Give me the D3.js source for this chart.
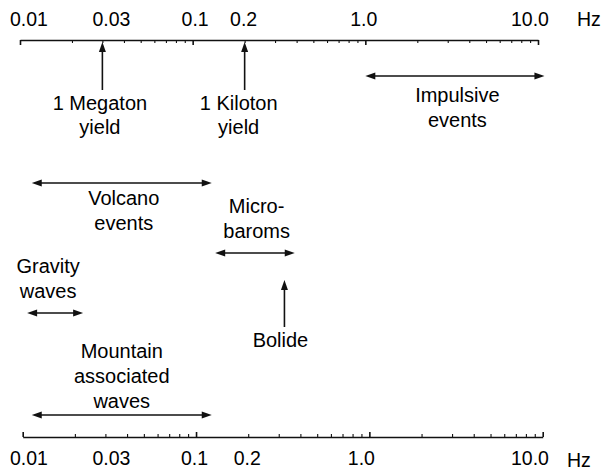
<!DOCTYPE html>
<html>
<head>
<meta charset="utf-8">
<script src="https://cdn.jsdelivr.net/npm/d3@7"></script>
<style>
  html, body { margin: 0; padding: 0; background: #fff; }
  svg { display: block; }
  text { font-family: "Liberation Sans", Arial, Helvetica, sans-serif; fill: #000; }
</style>
</head>
<body>
<svg id="chart" width="612" height="472"></svg>
<script>
// Frequency axis labels (Hz)
const tickValues = [0.01, 0.03, 0.1, 0.2, 1.0, 10.0];
const tickLabels = ["0.01", "0.03", "0.1", "0.2", "1.0", "10.0"];

// Frequency bands drawn as double-headed arrows (Hz)
const bandNames = ["Impulsive events", "Volcano events", "Micro-baroms", "Gravity waves", "Mountain associated waves"];
const bandLow   = [1.0, 0.0117, 0.135, 0.0110, 0.0117];
const bandHigh  = [10.9, 0.129, 0.39, 0.0232, 0.129];
const bandText  = [["Impulsive", "events"], ["Volcano", "events"], ["Micro-", "baroms"], ["Gravity", "waves"], ["Mountain", "associated", "waves"]];

// Single frequencies marked with upward arrows (Hz)
const pointNames = ["1 Megaton yield", "1 Kiloton yield", "Bolide"];
const pointFreq  = [0.03, 0.2, 0.34];
const pointText  = [["1 Megaton", "yield"], ["1 Kiloton", "yield"], ["Bolide"]];

// ---- layout ----
const svg = d3.select("#chart");
const ink = "#111";
const fontSize = 20;
const lineH = 25;

const xTop = d3.scaleLog().domain([0.01, 10]).range([20, 538]);
const xBot = d3.scaleLog().domain([0.01, 10]).range([22.7, 542.7]);
const yTopAxis = 40, yBotAxis = 437;

// label shifts along each axis, in px, per tick label
const topLabelDx = [9, 9, 2.5, -1, -1.5, -8];
const botLabelDx = [6.3, 6, -1.5, -1, -8, -12.7];

// vertical layout for each band: arrow row, first text baseline, text x shift
const bandLayout = [
  { y: 76,  textY: 102, dx: 2.5 },
  { y: 183, textY: 205, dx: 2 },
  { y: 253, textY: 213, dx: 1.7 },
  { y: 313, textY: 273, dx: -7 },
  { y: 415, textY: 358, dx: 0 }
];
// vertical layout for point markers: tail y, tip y, text baseline, text x shift
const pointLayout = [
  { y0: 90, y1: 42, textY: 110, dx: -2.5 },
  { y0: 90, y1: 42, textY: 110, dx: -6 },
  { y0: 327, y1: 280, textY: 347, dx: -4 }
];

const minorTicks = xTop.ticks();   // 1..9 multiples of every decade
const isMajor = v => Math.abs(Math.log10(v) - Math.round(Math.log10(v))) < 1e-9;

// ---- axes ----
function drawAxis(scale, y, dir) {
  const axis = (dir < 0 ? d3.axisTop(scale) : d3.axisBottom(scale))
    .tickValues(minorTicks).tickFormat("").tickSizeOuter(0).tickSizeInner(0);
  const g = svg.append("g").attr("transform", `translate(0,${y})`).call(axis);
  g.select(".domain").attr("stroke", ink).attr("stroke-width", 1.6);
  g.selectAll(".tick line")
    .attr("stroke", ink)
    .attr("stroke-width", d => isMajor(d) ? 1.6 : 1.1);
  return g;
}
// top axis ticks hang below the line, bottom axis ticks stand above it
drawAxis(xTop, yTopAxis, -1).selectAll(".tick line").attr("y2", d => isMajor(d) ? 5 : 3);
drawAxis(xBot, yBotAxis, 1).selectAll(".tick line").attr("y2", d => isMajor(d) ? -5 : -3);

svg.append("g").selectAll("text").data(tickValues).join("text")
  .attr("x", (d, i) => xTop(d) + topLabelDx[i]).attr("y", 26)
  .attr("text-anchor", "middle").attr("font-size", 19.5)
  .text((d, i) => tickLabels[i]);
svg.append("g").selectAll("text").data(tickValues).join("text")
  .attr("x", (d, i) => xBot(d) + botLabelDx[i]).attr("y", 465)
  .attr("text-anchor", "middle").attr("font-size", 19.5)
  .text((d, i) => tickLabels[i]);
svg.append("text").attr("x", 577).attr("y", 26).attr("font-size", 19.5).text("Hz");
svg.append("text").attr("x", 567).attr("y", 467).attr("font-size", 19.5).text("Hz");

// ---- arrowheads ----
function head(x, y, angle) {
  const L = 10, W = 3.5;
  const pts = [[0, 0], [L, -W], [L, W]].map(([a, b]) => {
    const c = Math.cos(angle), s = Math.sin(angle);
    return [x + a * c - b * s, y + a * s + b * c];
  });
  svg.append("path").attr("d", "M" + pts.join("L") + "Z").attr("fill", ink);
}

// ---- bands ----
bandNames.forEach((name, i) => {
  const L = bandLayout[i];
  const x0 = xTop(bandLow[i]), x1 = xTop(bandHigh[i]);
  svg.append("line").attr("x1", x0 + 4).attr("x2", x1 - 4).attr("y1", L.y).attr("y2", L.y)
    .attr("stroke", ink).attr("stroke-width", 1.6);
  head(x0, L.y, 0);
  head(x1, L.y, Math.PI);
  const cx = (x0 + x1) / 2 + L.dx;
  svg.append("g").selectAll("text").data(bandText[i]).join("text")
    .attr("x", cx).attr("y", (d, k) => L.textY + k * lineH)
    .attr("text-anchor", "middle").attr("font-size", fontSize).text(d => d);
});

// ---- point markers ----
pointNames.forEach((name, i) => {
  const L = pointLayout[i];
  const x = xTop(pointFreq[i]);
  svg.append("line").attr("x1", x).attr("x2", x).attr("y1", L.y0).attr("y2", L.y1 + 4)
    .attr("stroke", ink).attr("stroke-width", 1.6);
  head(x, L.y1, Math.PI / 2);
  svg.append("g").selectAll("text").data(pointText[i]).join("text")
    .attr("x", x + L.dx).attr("y", (d, k) => L.textY + k * 24)
    .attr("text-anchor", "middle").attr("font-size", fontSize).text(d => d);
});
</script>
</body>
</html>
